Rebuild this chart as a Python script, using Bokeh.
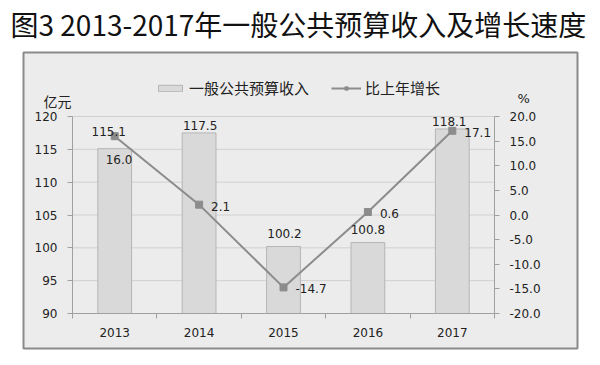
from bokeh.plotting import figure
from bokeh.models import (Range1d, LinearAxis, FixedTicker, NumeralTickFormatter,
                          ColumnDataSource, Label, BoxAnnotation, Legend, LegendItem)
from bokeh.core.properties import value
from bokeh.embed import file_html
from bokeh.resources import INLINE

# ---- data ----
title_text = "图3 2013-2017年一般公共预算收入及增长速度"
years = ["2013", "2014", "2015", "2016", "2017"]
revenue = [115.1, 117.5, 100.2, 100.8, 118.1]
growth = [16.0, 2.1, -14.7, 0.6, 17.1]
left_ticks = [90, 95, 100, 105, 110, 115, 120]
right_ticks = [-20, -15, -10, -5, 0, 5, 10, 15, 20]
bar_name = "一般公共预算收入"
line_name = "比上年增长"
left_unit = "亿元"
right_unit = "%"

# ---- layout (canvas pixels) & styles ----
W, H = 600, 365
PL, PR, PT, PB = 72, 494, 116, 313          # plot area edges
BOX = (23, 577, 52, 348)                    # left, right, top, bottom of the framed panel
bar_lbl_dx = [-6, 1, 1, 0, -3]
bar_lbl_dy = [-17, -7, -13, -13, -7]
line_lbl_dx = [-9, 12, 12, 12, 12]
line_lbl_dy = [23, 2, 1, 1.5, 2]

CJK = "Noto Sans CJK SC"
NUM = "DejaVu Sans"
BG = "#ececec"
BAR = "#d9d9d9"
BAR_LINE = "#b5b5b5"
LINE = "#8c8c8c"
AXIS = "#a0a0a0"
GRID = "#d0d0d0"
TXT = "#222222"

nx = len(years)
xs = [i + 0.5 for i in range(nx)]

sx = nx / (PR - PL)
x_range = Range1d(0 - PL * sx, nx + (W - PR) * sx)
ly0, ly1 = left_ticks[0], left_ticks[-1]
sy = (ly1 - ly0) / (PB - PT)
y_range = Range1d(ly0 - (H - PB) * sy, ly1 + PT * sy)
ry0, ry1 = right_ticks[0], right_ticks[-1]
sr = (ry1 - ry0) / (PB - PT)
pct_range = Range1d(ry0 - (H - PB) * sr, ry1 + PT * sr)

p = figure(width=W, height=H, output_backend="svg", toolbar_location=None,
           x_range=x_range, y_range=y_range,
           x_axis_location=None, y_axis_location=None,
           min_border_left=0, min_border_right=0, min_border_top=0, min_border_bottom=0)
p.extra_y_ranges = {"pct": pct_range}
p.border_fill_color = "white"
p.background_fill_color = "white"
p.outline_line_color = None
for g in p.grid:
    g.visible = False

box = BoxAnnotation(left=BOX[0], right=BOX[1], top=BOX[2], bottom=BOX[3],
                    left_units="canvas", right_units="canvas",
                    top_units="canvas", bottom_units="canvas",
                    fill_color=BG, fill_alpha=1, line_color="#8a8a8a", line_alpha=1,
                    line_width=2, level="underlay")
p.add_layout(box)

def style_axis(ax):
    ax.axis_line_color = AXIS
    ax.major_tick_line_color = AXIS
    ax.minor_tick_line_color = AXIS
    ax.major_label_text_font = NUM
    ax.major_label_text_font_size = "12px"
    ax.major_label_text_color = TXT

xaxis = LinearAxis(fixed_location=ly0, bounds=(0, nx),
                   ticker=FixedTicker(ticks=xs, minor_ticks=list(range(nx + 1))),
                   major_label_overrides={x: y for x, y in zip(xs, years)})
style_axis(xaxis)
xaxis.major_tick_out = 0
xaxis.major_tick_in = 0
xaxis.minor_tick_out = 5
xaxis.minor_tick_in = 0
xaxis.major_label_standoff = 9
p.add_layout(xaxis, "below")

yaxis = LinearAxis(fixed_location=0, bounds=(ly0, ly1), ticker=FixedTicker(ticks=left_ticks))
style_axis(yaxis)
yaxis.minor_tick_line_color = None
yaxis.major_tick_out = 5
yaxis.major_tick_in = 0
yaxis.major_label_standoff = 10
p.add_layout(yaxis, "left")

raxis = LinearAxis(y_range_name="pct", fixed_location=nx, bounds=(ry0, ry1),
                   ticker=FixedTicker(ticks=right_ticks),
                   formatter=NumeralTickFormatter(format="0.0"))
style_axis(raxis)
raxis.minor_tick_line_color = None
raxis.major_tick_out = 5
raxis.major_tick_in = 0
raxis.major_label_standoff = 10
p.add_layout(raxis, "right")

# horizontal grid lines across the plot area
p.segment(x0=[0] * len(left_ticks), x1=[nx] * len(left_ticks), y0=left_ticks, y1=left_ticks,
          line_color=GRID, line_width=1)

src = ColumnDataSource(dict(x=xs, rev=revenue, gr=growth,
                            rev_txt=[f"{v:.1f}" for v in revenue],
                            gr_txt=[f"{v:.1f}" for v in growth],
                            bdx=bar_lbl_dx, bdy=bar_lbl_dy,
                            ldx=line_lbl_dx, ldy=line_lbl_dy))

bars = p.vbar(x="x", top="rev", bottom=ly0, width=0.4, source=src,
              fill_color=BAR, line_color=BAR_LINE, line_width=1)
line = p.line(x="x", y="gr", source=src, y_range_name="pct", line_color=LINE, line_width=2)
marks = p.scatter(x="x", y="gr", source=src, y_range_name="pct", marker="square",
                  size=7, fill_color=LINE, line_color=LINE)

p.text(x="x", y="rev", text="rev_txt", source=src, x_offset="bdx", y_offset="bdy",
       text_align="center", text_baseline="middle", text_font=value(NUM),
       text_font_size="12px", text_color=TXT)
p.text(x="x", y="gr", text="gr_txt", source=src, y_range_name="pct",
       x_offset="ldx", y_offset="ldy",
       text_align="left", text_baseline="middle", text_font=value(NUM),
       text_font_size="12px", text_color=TXT)

legend = Legend(items=[LegendItem(label=bar_name, renderers=[bars]),
                       LegendItem(label=line_name, renderers=[line, marks])],
                orientation="horizontal", location=(155, 267),
                glyph_width=30, glyph_height=8, label_standoff=4, spacing=22,
                padding=0, margin=0, border_line_color=None, background_fill_alpha=0,
                label_text_font=CJK, label_text_font_size="15px", label_text_color=TXT)
p.add_layout(legend, "center")

p.add_layout(Label(x=10, y=H - 23, x_units="screen", y_units="screen", text=title_text,
                   text_font=CJK, text_font_size="28px",
                   text_baseline="middle", text_color="#111111"))
p.add_layout(Label(x=43, y=H - 100, x_units="screen", y_units="screen", text=left_unit,
                   text_font=CJK, text_font_size="14px",
                   text_baseline="middle", text_color=TXT))
p.add_layout(Label(x=517, y=H - 98, x_units="screen", y_units="screen", text=right_unit,
                   text_font=NUM, text_font_size="13px",
                   text_baseline="middle", text_color=TXT))

open("out.html", "w").write(file_html(p, INLINE))
